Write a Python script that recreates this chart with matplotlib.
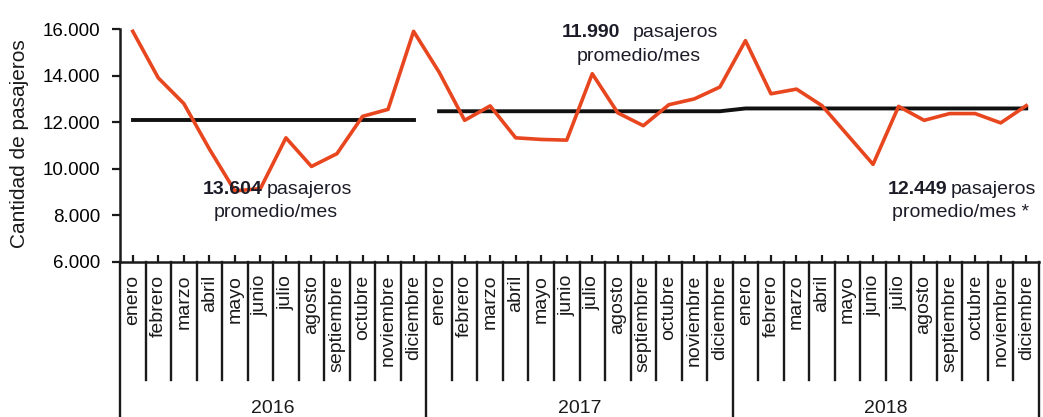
import matplotlib
matplotlib.use('Agg')
import matplotlib.pyplot as plt
import numpy as np

# datos
meses = ['enero', 'febrero', 'marzo', 'abril', 'mayo', 'junio', 'julio',
         'agosto', 'septiembre', 'octubre', 'noviembre', 'diciembre']
anios = ['2016', '2017', '2018']
pasajeros_2016 = [15900, 13900, 12800, 10850, 9050, 9150, 11330, 10100, 10650, 12250, 12550, 15900]
pasajeros_2017 = [14150, 12080, 12700, 11330, 11260, 11230, 14080, 12400, 11850, 12750, 13000, 13510]
pasajeros_2018 = [15500, 13220, 13420, 12710, 11450, 10190, 12680, 12080, 12370, 12370, 11970, 12710]
linea_promedio = [12080, 12470, 12590]
promedio_texto = ['13.604', '11.990', '12.449']
yticks = [6000, 8000, 10000, 12000, 14000, 16000]

plt.rcParams['font.family'] = ['Liberation Sans', 'DejaVu Sans']

serie = pasajeros_2016 + pasajeros_2017 + pasajeros_2018
x = np.arange(len(serie))

fig = plt.figure(figsize=(10.43, 4.17), dpi=100)
ax = fig.add_axes([120 / 1043, 155 / 417, 919 / 1043, 233 / 417])

ax.plot(x, serie, color='#E8461E', lw=2.6, zorder=3)

# lineas de promedio
ax.plot(x[:12], [linea_promedio[0]] * 12, color='#111111', lw=2.8, zorder=2)
ax.plot(x[12:], [linea_promedio[1]] * 12 + [linea_promedio[2]] * 12,
        color='#111111', lw=2.8, zorder=2)

ax.set_xlim(-0.5, 35.5)
ax.set_ylim(6000, 16000)
ax.set_yticks(yticks)
ax.set_yticklabels([f'{v:,.0f}'.replace(',', '.') for v in yticks], fontsize=13.5)
ax.set_xticks(x)
ax.set_xticklabels([])
ax.tick_params(axis='x', direction='in', length=5, width=1.6, color='#1a1a1a')
ax.tick_params(axis='y', direction='out', length=6, width=1.6, pad=8, color='#1a1a1a')

for s in ['top', 'right']:
    ax.spines[s].set_visible(False)
for s in ['left', 'bottom']:
    ax.spines[s].set_linewidth(1.8)
    ax.spines[s].set_color('#1a1a1a')

# eje de categorias con meses y anios
trans = ax.get_xaxis_transform()
for b in range(37):
    bx = b - 0.5
    if b % 12 == 0:
        ax.plot([bx, bx], [0, -0.67], transform=trans, color='#1a1a1a', lw=1.7, clip_on=False)
    else:
        ax.plot([bx, bx], [0, -0.505], transform=trans, color='#1a1a1a', lw=1.7, clip_on=False)

for i in range(len(serie)):
    ax.text(i, -0.055, meses[i % 12], transform=trans, rotation=90,
            ha='center', va='top', fontsize=14, color='#1a1a1a')

for k, a in enumerate(anios):
    ax.text(12 * k + 5.5, -0.63, a, transform=trans, ha='center', va='center',
            fontsize=14, color='#1a1a1a')

fig.text(20 / 1043, 0.655, 'Cantidad de pasajeros', rotation=90,
         ha='center', va='center', fontsize=15, color='#1a1a1a')

# textos de promedio
col_txt = '#1c1c28'
pos = [(5.1, 5.25, 5.6, 9120, 8140, 'promedio/mes'),
       (19.09, 19.6, 19.84, 15830, 14800, 'promedio/mes'),
       (31.9, 32.03, 32.42, 9120, 8140, 'promedio/mes *')]
for (xn, xp, xc, y1, y2, t2), num in zip(pos, promedio_texto):
    ax.text(xn, y1, num, ha='right', va='center', fontsize=14, fontweight='bold', color=col_txt)
    ax.text(xp, y1, 'pasajeros', ha='left', va='center', fontsize=14, color=col_txt)
    ax.text(xc, y2, t2, ha='center', va='center', fontsize=14, color=col_txt)

fig.savefig('out.png', dpi=100)
